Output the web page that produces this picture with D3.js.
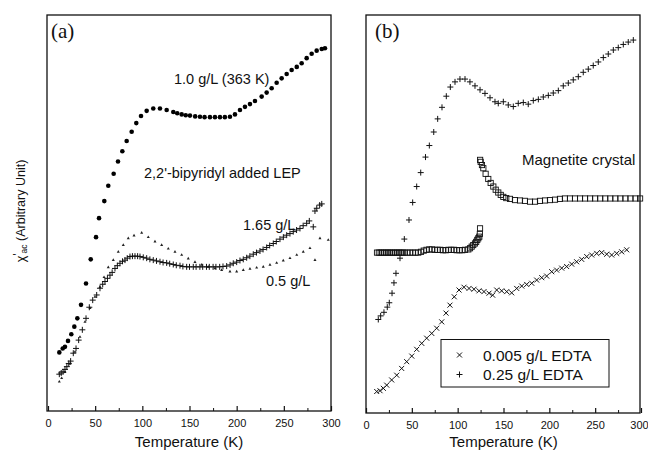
<!DOCTYPE html>
<html><head><meta charset="utf-8">
<script src="https://cdn.jsdelivr.net/npm/d3@7"></script>
<style>
html,body{margin:0;padding:0;background:#fff;}
svg{display:block;}
text{font-family:"Liberation Sans",Arial,sans-serif;fill:#111;}
</style></head><body>
<script>
// ---------- DATA (temperature in K, value in arbitrary units 0-100) ----------
const xTicks = [0, 50, 100, 150, 200, 250, 300];
const xMinorTicks = [25, 75, 125, 175, 225, 275];

// Panel (a): 1.0 g/L (363 K) - filled circles
const a10T = [12.0,15.6,18.0,21.2,24.7,27.9,31.1,35.0,40.3,45.3,50.9,54.1,59.7,63.9,69.6,74.2,78.8,83.4,88.7,93.6,98.6,104.6,111.6,118.7,125.8,132.8,137,141.7,146,150.5,156,161.1,166,171.7,177,182.3,187.5,192.9,198.2,203.5,208.8,214.1,219.4,226.5,231.8,237.1,242.4,247.7,253.0,258.3,263.7,268.9,274.2,279.5,284.8,290.2,293.6];
const a10V = [14.8,15.8,16.2,17.7,19.4,21.3,23.4,26.8,32.2,38.3,43.9,48.7,53.0,56.9,59.9,63.0,65.6,68.2,70.5,72.7,74.5,75.8,76.4,76.4,76.0,75.5,75.2,74.9,74.7,74.6,74.4,74.3,74.2,74.2,74.2,74.2,74.2,74.3,74.9,76.0,76.8,77.5,78.3,79.4,80.4,81.5,82.9,84.0,85.1,86.1,86.9,87.8,89.1,90.2,91.0,91.4,91.6];

// Panel (a): 1.65 g/L - plus signs
const a165T = [12,14,16,18,20,22,24,26.8,29.7,32.5,36.4,40.3,43.8,47.4,51.6,55.1,58,60.4,63,65.7,68,71,73.5,76.3,79,81.6,84,86.9,89.5,92.2,95,97.5,101,104.6,108,111.6,115,118.7,122,125.8,129,132.8,136,139.9,143,147,150,154,157,161,164,168,171,175,178,182,185.5,189.4,193,196.4,200,203.5,207,210.6,214,217.6,221,224.7,228,231.8,235,238.8,242,245.9,249.5,253,256.5,260,263.5,267.1,270.5,274.2,277,281.2,283,284.9,288,290.2];
const a165V = [9.3,9.6,9.9,10.5,11.2,12.0,12.6,14.6,15.8,17.9,20.5,23.4,26.2,28.0,29.3,31.0,32.0,32.7,33.5,34.3,35.0,36.0,36.7,37.3,37.8,38.1,38.6,39.0,39.1,39.1,39.1,39.0,38.8,38.6,38.3,38.1,37.9,37.7,37.5,37.4,37.2,37.0,36.8,36.7,36.5,36.4,36.4,36.4,36.4,36.4,36.4,36.4,36.4,36.4,36.4,36.4,36.5,36.6,36.9,37.3,37.6,38.0,38.3,38.7,39.1,39.6,40.0,40.4,40.8,41.3,41.8,42.3,42.8,43.4,43.9,44.4,44.8,45.3,45.7,46.1,46.8,47.4,48.0,46.5,50.5,51.2,52.0,52.3];

// Panel (a): 0.5 g/L - small triangles
const a05T = [12.0,14.5,18.0,23.3,28.6,33.9,39.2,44.5,49.8,55.1,59.4,63.9,69.2,74.5,79.8,85.1,91.2,99.3,106.3,113.4,120.5,127.5,134.6,141.7,148.7,155.8,162.9,169.9,177.0,184.1,192.9,200.0,207.0,214.1,221.2,228.2,235.3,242.4,249.4,256.5,263.7,270.6,277.7,283.0,288.3,297.1];
const a05V = [7.4,8.3,9.8,11.9,14.9,18.7,22.5,26.0,28.8,31.3,33.8,36.3,38.1,40.2,41.9,43.6,44.3,45.0,43.9,42.8,41.9,41.0,40.2,39.4,38.5,37.6,36.9,36.4,36.0,35.6,35.2,35.2,35.6,35.9,36.2,36.4,36.9,37.4,38.0,38.6,39.4,40.2,41.1,38.1,43.6,43.2];

// Panel (b): 0.25 g/L EDTA - plus signs
const b025T = [13.4,16.0,19.6,23.2,25.4,28.4,30.5,32.7,37.1,41.8,46.9,50.9,55.3,59.7,64.9,69.1,73.9,78.2,82.9,87.6,92.0,97.1,102.5,108.0,113.4,118.9,124.4,129.8,135.3,140.7,144.3,149.8,155.2,160.7,166.1,171.6,177.0,182.5,188.0,193.4,198.9,204.3,209.8,215.2,220.7,226.1,231.6,237.0,242.5,247.9,253.4,258.9,264.3,269.8,275.2,280.7,286.1,291.6];
const b025V = [23.5,24.4,25.3,26.6,27.7,30.1,32.7,35.1,38.9,43.7,48.5,52.9,56.9,60.4,64.3,67.2,70.6,73.9,76.8,79.6,81.9,83.2,83.9,83.9,83.2,82.2,81.2,80.3,79.2,78.2,77.8,78.2,77.4,77.0,77.8,78.0,77.6,78.5,78.8,79.4,79.8,80.4,81.0,82.2,82.9,83.7,84.5,85.6,86.4,87.3,88.2,89.3,90.2,91.2,91.8,92.6,93.2,93.7];

// Panel (b): 0.005 g/L EDTA - crosses
const b0005T = [11.7,15.3,18.9,22.6,28.0,33.5,38.9,44.4,49.9,55.3,60.8,66.2,71.7,77.1,82.6,87.3,91.6,96.3,101.5,106.9,112.4,117.8,123.3,128.7,134.2,138.2,142.6,148.0,153.5,158.9,164.4,169.9,175.3,180.8,186.2,191.7,197.1,202.6,208.0,213.5,218.9,224.4,229.8,235.3,240.8,246.2,251.7,257.1,262.6,268.0,273.5,278.9,284.4];
const b0005V = [5.4,5.6,6.2,7.0,8.3,9.5,11.2,12.9,14.3,16.0,17.5,18.8,20.0,21.3,22.9,25.1,27.1,29.2,30.9,31.6,31.3,31.1,30.7,30.5,30.1,29.6,30.9,30.7,30.5,30.2,31.3,31.9,32.3,32.6,33.4,34.0,34.4,35.5,35.9,36.4,36.8,37.4,38.0,38.6,39.3,39.7,40.1,40.3,39.9,39.7,40.1,40.5,41.0];

// Panel (b): Magnetite crystal - open squares (low branch, then high branch)
const bMagLowT = [12,14,16,18,20,22,24,26,28,30,32,34,36,38,40,42,45,48,51,54,57,60,63,66,69,72,75,78,81,84,87,90,93,96,99,102,105,108,111.6,113.5,115.3,117,118.9,120.2,121.4,122.5,123.6,124.2,124.4];
const bMagLowV = [40.3,40.3,40.3,40.3,40.3,40.3,40.3,40.3,40.3,40.3,40.3,40.3,40.3,40.3,40.3,40.3,40.3,40.3,40.3,40.3,40.3,40.5,40.8,41.0,41.1,41.1,41.0,41.0,41.0,40.9,40.9,41.0,41.0,41.0,40.9,40.9,40.9,41.0,41.1,41.4,41.8,42.2,42.6,43.0,43.5,43.9,44.3,45.0,46.4];
const bMagHighT = [124.5,125.1,126.5,128,130.5,133.4,136,138.9,141.5,144.3,147,149.8,153,157.1,162.5,168,173.4,178.9,184.4,189.8,195.3,200.7,206.2,211.6,217,222.5,228,233.5,239,244.5,250,255.5,261,266.5,272,277.5,283,288.5,294,299];
const bMagHighV = [63.6,63.1,62.3,61.5,60.1,58.8,57.8,56.9,56.1,55.4,54.8,54.3,54.0,53.8,53.5,53.4,53.3,53.1,53.1,53.3,53.4,53.5,53.6,53.8,53.9,53.9,53.9,53.9,53.9,53.9,53.9,53.9,53.9,53.9,53.9,53.9,53.9,53.9,53.9,53.9];

const legendLabels = ["0.005 g/L EDTA", "0.25 g/L EDTA"];

// ---------- DRAW ----------
const W = 648, H = 451;
const svg = d3.select("body").append("svg").attr("width", W).attr("height", H);

const zip = (T, V) => T.map((t, i) => ({t, v: V[i]}));

const xA = d3.scaleLinear().domain([0, 300]).range([48, 331]);
const yA = d3.scaleLinear().domain([0, 100]).range([411, 15]);
const xB = d3.scaleLinear().domain([0, 300]).range([366, 641]);
const yB = d3.scaleLinear().domain([0, 100]).range([413, 15]);

const plusPath = s => `M${-s},0H${s}M0,${-s}V${s}`;
const crossPath = s => `M${-s},${-s}L${s},${s}M${-s},${s}L${s},${-s}`;

function axes(x, y, y0, lastShift) {
  const g = svg.append("g").attr("transform", `translate(0,${y0})`);
  g.call(d3.axisBottom(x).tickValues(xTicks).tickSize(-5).tickPadding(8).tickFormat(d3.format("d")))
   .call(a => a.select(".domain").remove())
   .call(a => a.selectAll("line").attr("stroke", "#111").attr("stroke-width", 1.2))
   .call(a => a.selectAll("text").attr("font-size", 11).attr("font-family", "Liberation Sans, Arial, sans-serif").attr("fill", "#222"))
   .call(a => a.selectAll("text").filter(d => d === 300).attr("dx", lastShift));
  const m = svg.append("g").attr("transform", `translate(0,${y0})`);
  m.call(d3.axisBottom(x).tickValues(xMinorTicks).tickSize(-3).tickFormat(""))
   .call(a => a.select(".domain").remove())
   .call(a => a.selectAll("line").attr("stroke", "#111").attr("stroke-width", 1));
}

// Panel (a)
axes(xA, yA, 411, 0);
svg.append("rect").attr("x", 47).attr("y", 15).attr("width", 331 - 47).attr("height", 411 - 15)
  .attr("fill", "none").attr("stroke", "#111").attr("stroke-width", 1.3);

svg.append("g").selectAll("path").data(zip(a05T, a05V)).join("path")
  .attr("transform", d => `translate(${xA(d.t)},${yA(d.v)})`)
  .attr("d", d3.symbol(d3.symbolTriangle, 4)).attr("fill", "#222");

svg.append("g").selectAll("path").data(zip(a165T, a165V)).join("path")
  .attr("transform", d => `translate(${xA(d.t)},${yA(d.v)})`)
  .attr("d", plusPath(3)).attr("stroke", "#111").attr("stroke-width", 1).attr("fill", "none");

svg.append("g").selectAll("circle").data(zip(a10T, a10V)).join("circle")
  .attr("cx", d => xA(d.t)).attr("cy", d => yA(d.v)).attr("r", 2.3).attr("fill", "#000");

svg.append("text").attr("x", 51).attr("y", 38).attr("font-size", 21)
  .style("font-family", "Liberation Serif, Times New Roman, serif").text("(a)");
svg.append("text").attr("x", 174).attr("y", 84).attr("font-size", 14.5).text("1.0 g/L (363 K)");
svg.append("text").attr("x", 144).attr("y", 178).attr("font-size", 14.5).text("2,2'-bipyridyl added LEP");
svg.append("text").attr("x", 243).attr("y", 230).attr("font-size", 14.5).text("1.65 g/L");
svg.append("text").attr("x", 266).attr("y", 286).attr("font-size", 14.5).text("0.5 g/L");
svg.append("text").attr("x", 189).attr("y", 447).attr("font-size", 15).attr("text-anchor", "middle").text("Temperature (K)");

const yl = svg.append("text").attr("transform", "translate(25,211) rotate(-90)")
  .attr("text-anchor", "middle").attr("font-size", 12.5);
yl.append("tspan").text("χ");
yl.append("tspan").attr("dy", -3).text("'");
yl.append("tspan").attr("dy", 5).attr("font-size", 8.5).text("ac");
yl.append("tspan").attr("dy", -2).text(" (Arbitrary Unit)");

// Panel (b)
axes(xB, yB, 413, -2);
svg.append("rect").attr("x", 366).attr("y", 15).attr("width", 640 - 366).attr("height", 413 - 15)
  .attr("fill", "none").attr("stroke", "#111").attr("stroke-width", 1.3);

svg.append("g").selectAll("rect").data(zip(bMagLowT, bMagLowV).concat(zip(bMagHighT, bMagHighV))).join("rect")
  .attr("x", d => xB(d.t) - 2.6).attr("y", d => yB(d.v) - 2.6).attr("width", 5.2).attr("height", 5.2)
  .attr("fill", "none").attr("stroke", "#111").attr("stroke-width", 0.9);

svg.append("g").selectAll("path").data(zip(b0005T, b0005V)).join("path")
  .attr("transform", d => `translate(${xB(d.t)},${yB(d.v)})`)
  .attr("d", crossPath(2.5)).attr("stroke", "#111").attr("stroke-width", 1).attr("fill", "none");

svg.append("g").selectAll("path").data(zip(b025T, b025V)).join("path")
  .attr("transform", d => `translate(${xB(d.t)},${yB(d.v)})`)
  .attr("d", plusPath(3)).attr("stroke", "#111").attr("stroke-width", 1).attr("fill", "none");

svg.append("text").attr("x", 375).attr("y", 38).attr("font-size", 21)
  .style("font-family", "Liberation Serif, Times New Roman, serif").text("(b)");
svg.append("text").attr("x", 522).attr("y", 165).attr("font-size", 15).text("Magnetite crystal");
svg.append("text").attr("x", 503.5).attr("y", 447).attr("font-size", 15).attr("text-anchor", "middle").text("Temperature (K)");

// Legend
const lg = svg.append("g");
lg.append("rect").attr("x", 441).attr("y", 339.5).attr("width", 609 - 441).attr("height", 387 - 339.5)
  .attr("fill", "#fff").attr("stroke", "#111").attr("stroke-width", 1);
const syms = [crossPath(2.5), plusPath(3)];
legendLabels.forEach((lab, i) => {
  const cy = 355 + i * 19.5;
  lg.append("path").attr("transform", `translate(459.5,${cy})`).attr("d", syms[i])
    .attr("stroke", "#111").attr("stroke-width", 1).attr("fill", "none");
  lg.append("text").attr("x", 483).attr("y", cy + 5.5).attr("font-size", 15.5).text(lab);
});
</script>
</body></html>
